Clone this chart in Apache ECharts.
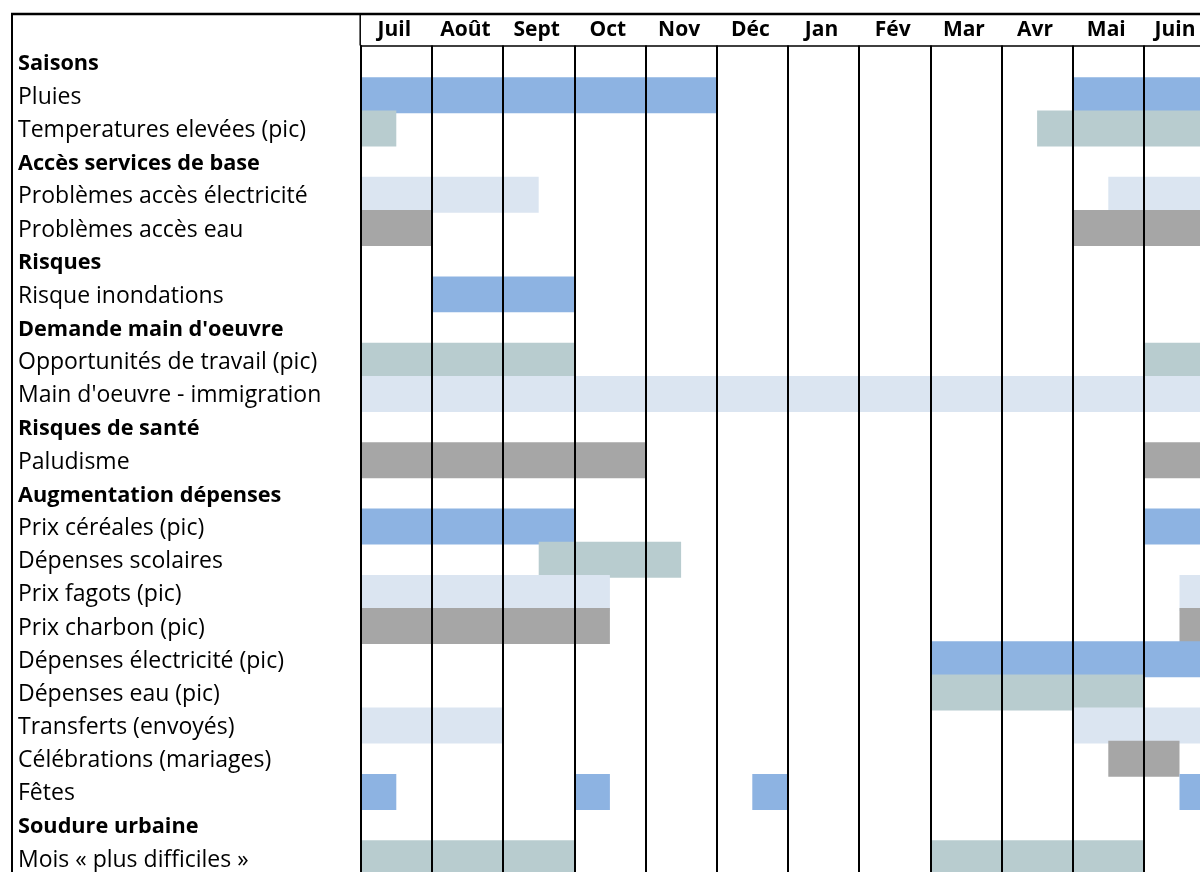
<!DOCTYPE html>
<html>
<head>
<meta charset="utf-8">
<script src="https://cdn.jsdelivr.net/npm/echarts@6/dist/echarts.min.js"></script>
<style>
  html, body { margin: 0; padding: 0; background: #fff; }
  #chart { width: 1200px; height: 872px; }
</style>
</head>
<body>
<div id="chart"></div>
<script>
// ---- Data ----
const months = ['Juil', 'Août', 'Sept', 'Oct', 'Nov', 'Déc', 'Jan', 'Fév', 'Mar', 'Avr', 'Mai', 'Juin'];

const rowLabels = [
  'Saisons',
  'Pluies',
  'Temperatures elevées (pic)',
  'Accès services de base',
  'Problèmes accès électricité',
  'Problèmes accès eau',
  'Risques',
  'Risque inondations',
  "Demande main d'oeuvre",
  'Opportunités de travail (pic)',
  "Main d'oeuvre - immigration",
  'Risques de santé',
  'Paludisme',
  'Augmentation dépenses',
  'Prix céréales (pic)',
  'Dépenses scolaires',
  'Prix fagots (pic)',
  'Prix charbon (pic)',
  'Dépenses électricité (pic)',
  'Dépenses eau (pic)',
  'Transferts (envoyés)',
  'Célébrations (mariages)',
  'Fêtes',
  'Soudure urbaine',
  'Mois « plus difficiles »'
];

const sectionHeaders = [
  'Saisons',
  'Accès services de base',
  'Risques',
  "Demande main d'oeuvre",
  'Risques de santé',
  'Augmentation dépenses',
  'Soudure urbaine'
];

// Periods in months from start of July (0 = début Juil, 12 = fin Juin)
const barRow = [
  'Pluies', 'Pluies',
  'Temperatures elevées (pic)', 'Temperatures elevées (pic)',
  'Problèmes accès électricité', 'Problèmes accès électricité',
  'Problèmes accès eau', 'Problèmes accès eau',
  'Risque inondations',
  'Opportunités de travail (pic)', 'Opportunités de travail (pic)',
  "Main d'oeuvre - immigration",
  'Paludisme', 'Paludisme',
  'Prix céréales (pic)', 'Prix céréales (pic)',
  'Dépenses scolaires',
  'Prix fagots (pic)', 'Prix fagots (pic)',
  'Prix charbon (pic)', 'Prix charbon (pic)',
  'Dépenses électricité (pic)',
  'Dépenses eau (pic)',
  'Transferts (envoyés)', 'Transferts (envoyés)',
  'Célébrations (mariages)',
  'Fêtes', 'Fêtes', 'Fêtes', 'Fêtes',
  'Mois « plus difficiles »', 'Mois « plus difficiles »'
];
const barStart = [
  0, 10,
  0, 9.5,
  0, 10.5,
  0, 10,
  1,
  0, 11,
  0,
  0, 11,
  0, 11,
  2.5,
  0, 11.5,
  0, 11.5,
  8,
  8,
  0, 10,
  10.5,
  0, 3, 5.5, 11.5,
  0, 8
];
const barEnd = [
  5, 12,
  0.5, 12,
  2.5, 12,
  1, 12,
  3,
  3, 12,
  12,
  4, 12,
  3, 12,
  4.5,
  3.5, 12,
  3.5, 12,
  12,
  11,
  2, 12,
  11.5,
  0.5, 3.5, 6, 12,
  3, 11
];

// ---- Styles ----
const palette = ['#8DB3E2', '#B8CCCF', '#DBE5F1', '#A6A6A6'];
const FONT = '"Open Sans"';

// colour by order of non-header rows (cycling palette)
const dataRowNames = rowLabels.filter(r => sectionHeaders.indexOf(r) < 0);
function colorOf(name) {
  return palette[dataRowNames.indexOf(name) % palette.length];
}

const barData = barRow.map((name, i) => ({
  value: [barStart[i], barEnd[i], rowLabels.indexOf(name)],
  itemStyle: { color: colorOf(name) }
}));

const chart = echarts.init(document.getElementById('chart'), null, { renderer: 'canvas' });

const GRID_LEFT = 360.7;
const COL_W = 71.2;
const ROW_H = 33.17;
const GRID_TOP = 45.6;

const monthLabelStyle = { fontFamily: FONT, fontWeight: 'bold', fontSize: 21, color: '#000' };

chart.setOption({
  animation: false,
  backgroundColor: '#ffffff',
  grid: {
    left: GRID_LEFT,
    top: GRID_TOP,
    width: COL_W * months.length,
    height: ROW_H * rowLabels.length,
    containLabel: false,
    outerBoundsMode: 'none'
  },
  xAxis: [
    {
      type: 'value',
      position: 'top',
      min: 0,
      max: 12,
      interval: 1,
      z: 5,
      axisLine: { show: true, lineStyle: { color: '#000', width: 1.5 } },
      axisTick: { show: false },
      axisLabel: { show: false },
      splitLine: { show: true, lineStyle: { color: '#000', width: 2 } }
    },
    {
      type: 'category',
      position: 'top',
      data: months,
      boundaryGap: true,
      axisLine: { show: false },
      axisTick: { show: false },
      splitLine: { show: false },
      axisLabel: Object.assign({
        interval: 0,
        margin: 16,
        verticalAlign: 'middle',
        padding: [0, 4, 0, 0],
        formatter: function (v, idx) {
          return idx === months.length - 1 ? '{edge|' + v + '}' : '{m|' + v + '}';
        },
        rich: {
          m: Object.assign({}, monthLabelStyle),
          edge: Object.assign({ padding: [0, 5, 0, 0] }, monthLabelStyle)
        }
      }, monthLabelStyle)
    }
  ],
  yAxis: {
    type: 'category',
    inverse: true,
    data: rowLabels,
    z: 5,
    axisLine: { show: true, lineStyle: { color: '#000', width: 1.5 } },
    axisTick: { show: false },
    splitLine: { show: false },
    axisLabel: {
      interval: 0,
      align: 'left',
      margin: GRID_LEFT - 18,
      padding: [4, 0, 0, 0],
      fontFamily: FONT,
      fontSize: 23,
      color: '#000',
      formatter: function (v) {
        return sectionHeaders.indexOf(v) >= 0 ? '{h|' + v + '}' : '{n|' + v + '}';
      },
      rich: {
        h: { fontFamily: FONT, fontSize: 21.7, fontWeight: 'bold', color: '#000' },
        n: { fontFamily: FONT, fontSize: 23, color: '#000' }
      }
    }
  },
  graphic: [
    { type: 'line', z: 10, shape: { x1: 11, y1: 14, x2: 1200, y2: 14 }, style: { stroke: '#000', lineWidth: 2.5 } },
    { type: 'line', z: 10, shape: { x1: 12, y1: 13, x2: 12, y2: 872 }, style: { stroke: '#000', lineWidth: 2 } },
    { type: 'line', z: 10, shape: { x1: GRID_LEFT - 0.5, y1: 13, x2: GRID_LEFT - 0.5, y2: GRID_TOP }, style: { stroke: '#000', lineWidth: 1.5 } }
  ],
  series: [
    {
      type: 'custom',
      z: 2,
      xAxisIndex: 0,
      yAxisIndex: 0,
      encode: { x: [0, 1], y: 2 },
      data: barData,
      renderItem: function (params, api) {
        const start = api.value(0);
        const end = api.value(1);
        const row = api.value(2);
        const p0 = api.coord([start, row]);
        const p1 = api.coord([end, row]);
        const h = api.size([0, 1])[1] * 1.085;
        return {
          type: 'rect',
          shape: { x: p0[0], y: p0[1] - h / 2, width: p1[0] - p0[0], height: h },
          style: api.style()
        };
      }
    }
  ]
});
</script>
</body>
</html>
